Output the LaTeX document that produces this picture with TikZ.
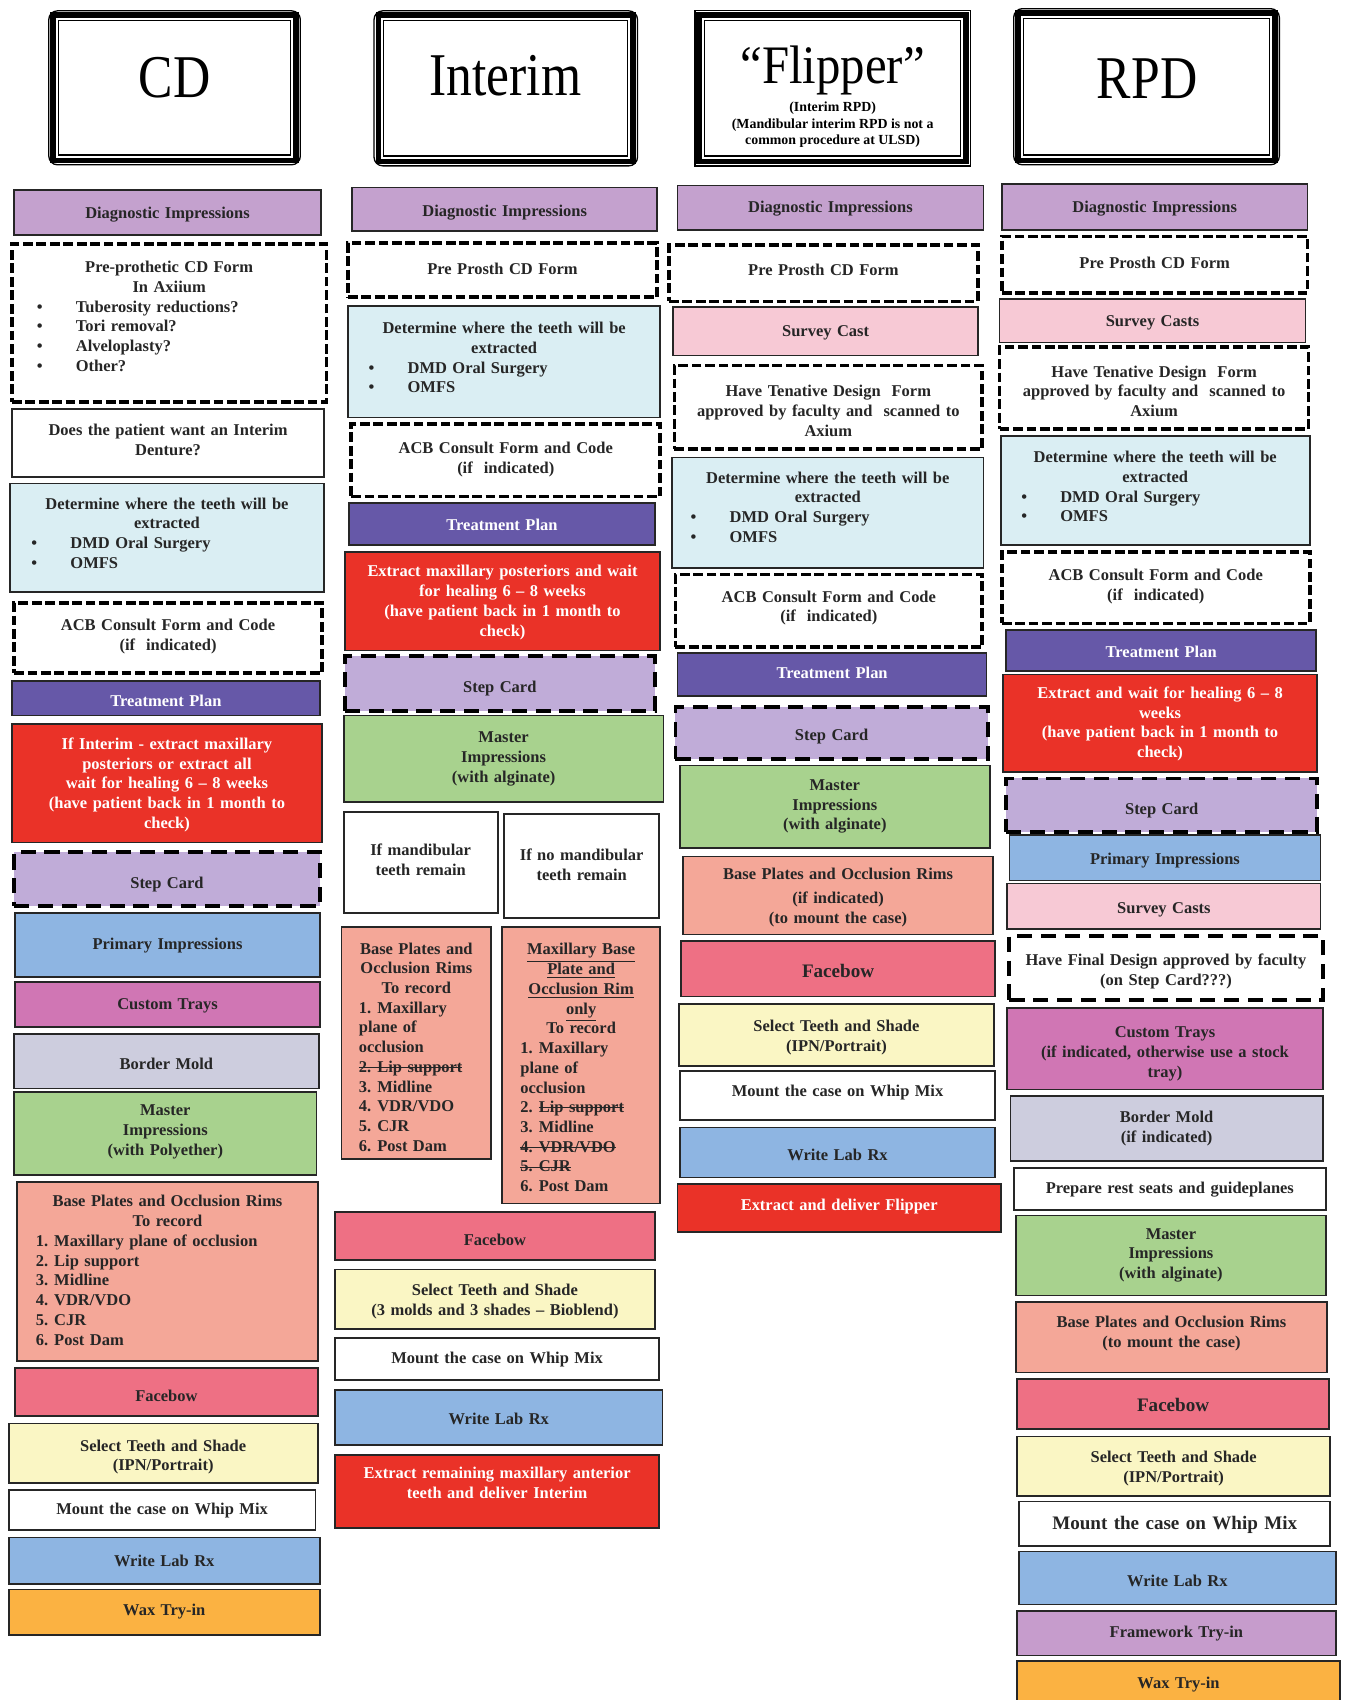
\documentclass[tikz,border=0pt]{standalone}
\usepackage{fontspec}
\setmainfont{Liberation Serif}
\newfontfamily\hdrfont[FakeStretch=0.85]{Liberation Serif}
\newfontfamily\flipfont[FakeStretch=0.9]{Liberation Serif}

\definecolor{cDiag}{RGB}{196,161,206}
\definecolor{cStep}{RGB}{192,172,216}
\definecolor{cPlan}{RGB}{102,88,168}
\definecolor{cRed}{RGB}{234,50,40}
\definecolor{cSky}{RGB}{218,238,243}
\definecolor{cBlue}{RGB}{142,181,226}
\definecolor{cTray}{RGB}{208,118,180}
\definecolor{cMold}{RGB}{205,205,222}
\definecolor{cGreen}{RGB}{168,210,142}
\definecolor{cSalmon}{RGB}{244,167,152}
\definecolor{cBow}{RGB}{238,112,132}
\definecolor{cYellow}{RGB}{250,246,196}
\definecolor{cOrange}{RGB}{251,178,66}
\definecolor{cPink}{RGB}{247,201,213}
\definecolor{cFrame}{RGB}{198,156,204}
\definecolor{cInk}{RGB}{38,38,38}

\newcommand\bodyfont{\fontsize{7.6}{9.1}\selectfont\bfseries\parindent=0pt}
\newcommand\largefont{\fontsize{8.8}{10.5}\selectfont\bfseries\parindent=0pt}
% a line of fixed full width, starting after an indent
\newcommand\li[2]{\makebox[\hsize][l]{\hspace*{#1}#2}}
\newcommand\bul[1]{\makebox[18pt][l]{\textbullet}#1}
\newcommand\num[2]{\makebox[8.5pt][l]{#1}#2}
% struck-through text
\newsavebox\strkbox
\newcommand\strk[1]{\sbox\strkbox{#1}\rlap{\rule[0.26em]{\wd\strkbox}{0.55pt}}\usebox\strkbox}

\tikzset{
  solidbox/.style={draw=black!85, line width=0.8pt},
  plainbox/.style={solidbox, fill=white},
  dashbox/.style={draw=black, line width=1.7pt, dash pattern=on 4.5pt off 1.7pt, fill=white},
  longdashbox/.style={draw=black, line width=1.8pt, dash pattern=on 7pt off 4pt, fill=white},
  stepcard/.style={draw=black, line width=1.8pt, dash pattern=on 7pt off 4pt, fill=cStep},
  diagbox/.style={solidbox, fill=cDiag},
  skybox/.style={solidbox, fill=cSky},
  planbox/.style={solidbox, fill=cPlan},
  redbox/.style={solidbox, fill=cRed},
  greenbox/.style={solidbox, fill=cGreen},
  salmonbox/.style={solidbox, fill=cSalmon},
  bowbox/.style={solidbox, fill=cBow},
  yellowbox/.style={solidbox, fill=cYellow},
  bluebox/.style={solidbox, fill=cBlue},
  traybox/.style={solidbox, fill=cTray},
  moldbox/.style={solidbox, fill=cMold},
  orangebox/.style={solidbox, fill=cOrange},
  pinkbox/.style={solidbox, fill=cPink},
  frameworkbox/.style={solidbox, fill=cFrame},
  txt/.style={inner sep=0pt, align=center, font=\bodyfont, text=cInk},
  whitetext/.style={text=white},
  largetext/.style={font=\largefont},
}

% #1 name, #2 box style, #3 text style, #4-#7 corners, #8 text centre y, #9 text
\newcommand\panel[9]{%
  \pgfmathsetmacro\pw{(#6-#4)*0.5}%
  \pgfmathsetmacro\ph{(#7-#5)*0.5}%
  \pgfmathsetmacro\tw{\pw-6}%
  \node[#2, inner sep=0pt, minimum width=\pw pt, minimum height=\ph pt] (#1) at ({(#4+#6)/2},{(#5+#7)/2}) {};
  \node[txt, #3, text width=\tw pt] (#1t) at ({(#4+#6)/2},{#8+1.8}) {#9};}

% framed column heading: #1 name, #2-#5 corners, #6 corner radius
\newcommand\hdr[6]{%
  \draw[line width=0.6pt, rounded corners=#6] (#2,#3) rectangle (#4,#5);
  \pgfmathsetmacro\pw{(#4-#2-8)*0.5}%
  \pgfmathsetmacro\ph{(#5-#3-8)*0.5}%
  \node[draw, line width=2.6pt, inner sep=0pt, minimum width=\pw pt, minimum height=\ph pt] (#1) at ({(#2+#4)/2},{(#3+#5)/2}) {};
  \draw[line width=0.6pt] ({#2+9},{#3+9}) rectangle ({#4-9},{#5-9});}

\begin{document}
\begin{tikzpicture}[x=0.5pt,y=-0.5pt]
\fill[white] (0,0) rectangle (1240,1568);
\useasboundingbox (0,0) rectangle (1240,1568);

% ---------- headings ----------
\hdr{hCD}{45}{10}{277}{152}{4pt}
\node[font=\hdrfont\fontsize{28}{30}\selectfont] (tCD) at (161,72) {CD};
\hdr{hInt}{345}{10}{588}{153}{4pt}
\node[font=\hdrfont\fontsize{28}{30}\selectfont] (tInt) at (466,70) {Interim};
\hdr{hFl}{641}{10}{895}{153}{0pt}
\node[font=\flipfont\fontsize{25}{27}\selectfont] (tFl) at (768,65) {“Flipper”};
\node[font=\fontsize{6.4}{7.5}\selectfont\bfseries, align=center, inner sep=0pt] (tFlSub) at (768,115)
  {(Interim RPD)\\(Mandibular interim RPD is not a\\common procedure at ULSD)};
\hdr{hRPD}{935}{8}{1180}{152}{4pt}
\node[font=\hdrfont\fontsize{28}{30}\selectfont] (tRPD) at (1058,73) {RPD};

% ---------- CD ----------
\panel{c1a}{diagbox}{}{13}{175}{296}{217}{196}{Diagnostic Impressions}
\panel{c1b}{dashbox}{}{11}{225}{301}{371}{290}{Pre-prothetic CD Form\\In Axiium\\
  \li{8.5pt}{\bul{Tuberosity reductions?}}\\\li{8.5pt}{\bul{Tori removal?}}\\
  \li{8.5pt}{\bul{Alveloplasty?}}\\\li{8.5pt}{\bul{Other?}}}
\panel{c1c}{plainbox}{}{11}{377}{299}{440}{404}{Does the patient want an Interim\\Denture?}
\panel{c1d}{skybox}{}{9}{446}{299}{546}{490}{Determine where the teeth will be\\extracted\\
  \li{7pt}{\bul{DMD Oral Surgery}}\\\li{7pt}{\bul{OMFS}}}
\panel{c1e}{dashbox}{}{13}{556}{297}{621}{585}{ACB Consult Form and Code\\(if~ indicated)}
\panel{c1f}{planbox}{whitetext}{11}{628}{295}{660}{645}{Treatment Plan}
\panel{c1g}{redbox}{whitetext}{11}{668}{297}{777}{722}{If Interim - extract maxillary\\posteriors or extract all\\wait for healing 6 – 8 weeks\\(have patient back in 1 month to\\check)}
\panel{c1h}{stepcard}{}{13}{786}{295}{836}{814}{Step Card}
\panel{c1i}{bluebox}{}{14}{842}{295}{901}{870}{Primary Impressions}
\panel{c1j}{traybox}{}{14}{906}{295}{947}{926}{Custom Trays}
\panel{c1k}{moldbox}{}{13}{954}{294}{1004}{979}{Border Mold}
\panel{c1l}{greenbox}{}{13}{1007}{292}{1084}{1042}{Master\\Impressions\\(with Polyether)}
\panel{c1m}{salmonbox}{}{16}{1090}{293}{1255}{1170}{Base Plates and Occlusion Rims\\To record\\
  \li{5.5pt}{\num{1.}{Maxillary plane of occlusion}}\\\li{5.5pt}{\num{2.}{Lip support}}\\
  \li{5.5pt}{\num{3.}{Midline}}\\\li{5.5pt}{\num{4.}{VDR/VDO}}\\
  \li{5.5pt}{\num{5.}{CJR}}\\\li{5.5pt}{\num{6.}{Post Dam}}}
\panel{c1n}{bowbox}{}{14}{1262}{293}{1306}{1286}{Facebow}
\panel{c1o}{yellowbox}{}{8}{1313}{293}{1368}{1342}{Select Teeth and Shade\\(IPN/Portrait)}
\panel{c1p}{plainbox}{}{8}{1374}{291}{1411}{1391}{Mount the case on Whip Mix}
\panel{c1q}{bluebox}{}{8}{1418}{295}{1461}{1438}{Write Lab Rx}
\panel{c1r}{orangebox}{}{8}{1466}{295}{1508}{1485}{Wax Try-in}

% ---------- Interim ----------
\panel{c2a}{diagbox}{}{325}{173}{606}{213}{194}{Diagnostic Impressions}
\panel{c2b}{dashbox}{}{321}{224}{606}{274}{246}{Pre Prosth CD Form}
\panel{c2c}{skybox}{}{321}{282}{609}{385}{328}{Determine where the teeth will be\\extracted\\
  \li{6.5pt}{\bul{DMD Oral Surgery}}\\\li{6.5pt}{\bul{OMFS}}}
\panel{c2d}{dashbox}{}{324}{391}{609}{458}{422}{ACB Consult Form and Code\\(if~ indicated)}
\panel{c2e}{planbox}{whitetext}{322}{464}{604}{503}{482}{Treatment Plan}
\panel{c2f}{redbox}{whitetext}{318}{509}{609}{600}{554}{Extract maxillary posteriors and wait\\for healing 6 – 8 weeks\\(have patient back in 1 month to\\check)}
\panel{c2g}{stepcard}{}{318}{605}{604}{656}{633}{Step Card}
\panel{c2h}{greenbox}{}{317}{660}{612}{740}{698}{Master\\Impressions\\(with alginate)}
\panel{c2i}{plainbox}{}{317}{749}{459}{842}{791}{If mandibular\\teeth remain}
\panel{c2j}{plainbox}{}{465}{751}{608}{847}{796}{If no mandibular\\teeth remain}
\panel{c2k}{salmonbox}{}{315}{855}{453}{1069}{964}{Base Plates and\\Occlusion Rims\\To record\\
  \li{5pt}{\num{1.}{Maxillary}}\\\li{5pt}{plane of}\\\li{5pt}{occlusion}\\
  \li{5pt}{\strk{\num{2.}{Lip support}}}\\\li{5pt}{\num{3.}{Midline}}\\
  \li{5pt}{\num{4.}{VDR/VDO}}\\\li{5pt}{\num{5.}{CJR}}\\\li{5pt}{\num{6.}{Post Dam}}}
\panel{c2l}{salmonbox}{}{463}{855}{609}{1110}{983}{\underline{Maxillary Base}\\\underline{Plate and}\\\underline{Occlusion Rim}\\\underline{only}\\To record\\
  \li{5.5pt}{\num{1.}{Maxillary}}\\\li{5.5pt}{plane of}\\\li{5.5pt}{occlusion}\\
  \li{5.5pt}{\num{2.}{\strk{Lip support}}}\\\li{5.5pt}{\num{3.}{Midline}}\\
  \li{5.5pt}{\strk{\num{4.}{VDR/VDO}}}\\\li{5.5pt}{\strk{\num{5.}{CJR}}}\\\li{5.5pt}{\num{6.}{Post Dam}}}
\panel{c2m}{bowbox}{}{309}{1118}{604}{1162}{1142}{Facebow}
\panel{c2n}{yellowbox}{}{309}{1171}{604}{1226}{1199}{Select Teeth and Shade\\(3 molds and 3 shades – Bioblend)}
\panel{c2o}{plainbox}{}{309}{1234}{608}{1273}{1252}{Mount the case on Whip Mix}
\panel{c2p}{bluebox}{}{309}{1282}{611}{1333}{1307}{Write Lab Rx}
\panel{c2q}{redbox}{whitetext}{309}{1342}{608}{1409}{1366}{Extract remaining maxillary anterior\\teeth and deliver Interim}

% ---------- Flipper ----------
\panel{c3a}{diagbox}{}{625}{171}{907}{212}{191}{Diagnostic Impressions}
\panel{c3b}{dashbox}{}{617}{226}{902}{278}{247}{Pre Prosth CD Form}
\panel{c3c}{pinkbox}{}{621}{283}{902}{328}{305}{Survey Cast}
\panel{c3d}{dashbox}{}{622}{337}{906}{414}{377}{Have Tenative Design~ Form\\approved by faculty and~ scanned to\\Axium}
\panel{c3e}{skybox}{}{620}{422}{907}{524}{466}{Determine where the teeth will be\\extracted\\
  \li{5.5pt}{\bul{DMD Oral Surgery}}\\\li{5.5pt}{\bul{OMFS}}}
\panel{c3f}{dashbox}{}{623}{530}{906}{597}{559}{ACB Consult Form and Code\\(if~ indicated)}
\panel{c3g}{planbox}{whitetext}{625}{602}{910}{642}{619}{Treatment Plan}
\panel{c3h}{stepcard}{}{623}{652}{911}{700}{678}{Step Card}
\panel{c3i}{greenbox}{}{627}{706}{913}{782}{742}{Master\\Impressions\\(with alginate)}
\panel{c3j}{salmonbox}{}{630}{790}{916}{862}{826}{Base Plates and Occlusion Rims\\[2pt](if indicated)\\(to mount the case)}
\panel{c3k}{bowbox}{largetext}{628}{868}{918}{919}{894}{Facebow}
\panel{c3l}{yellowbox}{}{626}{926}{917}{983}{955}{Select Teeth and Shade\\(IPN/Portrait)}
\panel{c3m}{plainbox}{}{627}{988}{918}{1033}{1006}{Mount the case on Whip Mix}
\panel{c3n}{bluebox}{}{627}{1040}{918}{1086}{1063}{Write Lab Rx}
\panel{c3o}{redbox}{whitetext}{625}{1092}{923}{1136}{1111}{Extract and deliver Flipper}

% ---------- RPD ----------
\panel{c4a}{diagbox}{}{924}{170}{1206}{212}{191}{Diagnostic Impressions}
\panel{c4b}{dashbox}{}{924}{218}{1206}{270}{241}{Pre Prosth CD Form}
\panel{c4c}{pinkbox}{}{922}{276}{1204}{316}{296}{Survey Casts}
\panel{c4d}{dashbox}{}{922}{320}{1207}{396}{359}{Have Tenative Design~ Form\\approved by faculty and~ scanned to\\Axium}
\panel{c4e}{skybox}{}{923}{402}{1208}{503}{447}{Determine where the teeth will be\\extracted\\
  \li{6.5pt}{\bul{DMD Oral Surgery}}\\\li{6.5pt}{\bul{OMFS}}}
\panel{c4f}{dashbox}{}{924}{509}{1208}{575}{539}{ACB Consult Form and Code\\(if~ indicated)}
\panel{c4g}{planbox}{whitetext}{928}{581}{1214}{619}{599}{Treatment Plan}
\panel{c4h}{redbox}{whitetext}{925}{622}{1215}{712}{666}{Extract and wait for healing 6 – 8\\weeks\\(have patient back in 1 month to\\check)}
\panel{c4i}{stepcard}{}{928}{718}{1215}{767}{746}{Step Card}
\panel{c4j}{bluebox}{}{931}{770}{1218}{812}{792}{Primary Impressions}
\panel{c4k}{pinkbox}{}{929}{815}{1218}{857}{837}{Survey Casts}
\panel{c4l}{longdashbox}{}{931}{863}{1220}{922}{894}{Have Final Design approved by faculty\\(on Step Card???)}
\panel{c4m}{traybox}{}{929}{930}{1220}{1005}{970}{Custom Trays\\(if indicated, otherwise use a stock\\tray)}
\panel{c4n}{moldbox}{}{932}{1011}{1220}{1071}{1039}{Border Mold\\(if indicated)}
\panel{c4o}{plainbox}{}{935}{1077}{1223}{1116}{1095}{Prepare rest seats and guideplanes}
\panel{c4p}{greenbox}{}{937}{1121}{1223}{1195}{1156}{Master\\Impressions\\(with alginate)}
\panel{c4q}{salmonbox}{}{937}{1201}{1224}{1266}{1228}{Base Plates and Occlusion Rims\\(to mount the case)}
\panel{c4r}{bowbox}{largetext}{938}{1272}{1226}{1318}{1294}{Facebow}
\panel{c4s}{yellowbox}{}{938}{1325}{1227}{1380}{1353}{Select Teeth and Shade\\(IPN/Portrait)}
\panel{c4t}{plainbox}{largetext}{940}{1385}{1227}{1426}{1405}{Mount the case on Whip Mix}
\panel{c4u}{bluebox}{}{940}{1431}{1232}{1480}{1456}{Write Lab Rx}
\panel{c4v}{frameworkbox}{}{938}{1486}{1232}{1527}{1505}{Framework Try-in}
\panel{c4w}{orangebox}{}{938}{1532}{1236}{1576}{1552}{Wax Try-in}
\end{tikzpicture}
\end{document}
